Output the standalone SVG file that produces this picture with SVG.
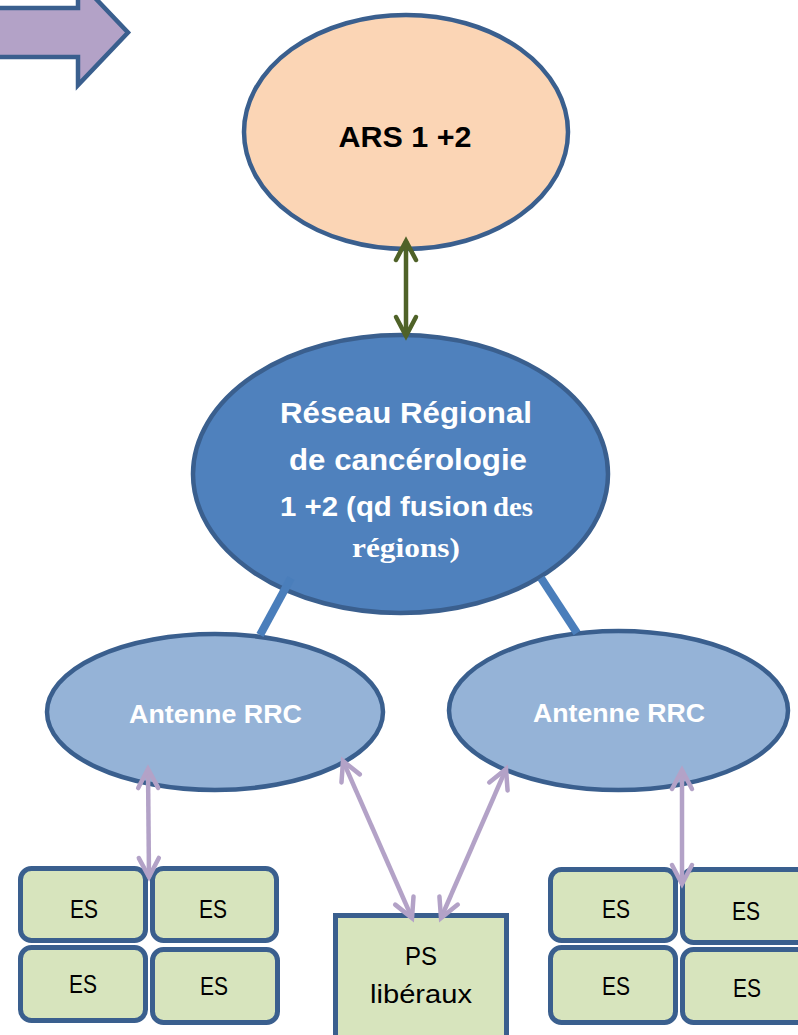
<svg xmlns="http://www.w3.org/2000/svg" width="798" height="1035" viewBox="0 0 798 1035">
<style>
.node{stroke:#3A5F8E;stroke-width:4.5}
.box{fill:#D7E4BD;stroke:#3A5F8E;stroke-width:5}
.lbl{font-family:"Liberation Sans",Arial,sans-serif;text-anchor:middle}
.b{font-weight:bold}
.w{fill:#FFFFFF}
.k{fill:#000000}
.serif{font-family:"Liberation Serif","Times New Roman",serif;font-weight:bold}
.purple{stroke:#B3A2C7;stroke-width:4.5;fill:none}
.green{stroke:#4F6228;stroke-width:4.5;fill:none}
.link{stroke:#4A7EBB;stroke-width:8;fill:none}
</style>
<defs>
<marker id="mp" markerUnits="userSpaceOnUse" markerWidth="30" markerHeight="30" viewBox="-25 -15 30 30" refX="0" refY="0" orient="auto-start-reverse" overflow="visible">
<path d="M-19,-10 L0,0 L-19,10" fill="none" stroke="#B3A2C7" stroke-width="4.5" stroke-linecap="round" stroke-linejoin="miter"/>
</marker>
<marker id="mg" markerUnits="userSpaceOnUse" markerWidth="30" markerHeight="30" viewBox="-25 -15 30 30" refX="0" refY="0" orient="auto-start-reverse" overflow="visible">
<path d="M-19,-10 L0,0 L-19,10" fill="none" stroke="#4F6228" stroke-width="4.5" stroke-linecap="round" stroke-linejoin="miter"/>
</marker>
</defs>
<rect width="798" height="1035" fill="#FFFFFF"/>

<g id="big-arrow">
<polygon points="-10,8 78,8 78,-20 128,32.5 78,85 78,57 -10,57" fill="#B3A2C7" stroke="#3A5F8E" stroke-width="4.5" stroke-linejoin="miter"/>
</g>

<g id="ars">
<ellipse class="node" cx="406" cy="132" rx="162" ry="117" fill="#FBD5B5"/>
<text class="lbl b k" x="405" y="147" font-size="29" textLength="133" lengthAdjust="spacingAndGlyphs">ARS 1 +2</text>
</g>

<g id="rrc">
<ellipse class="node" cx="400.5" cy="474" rx="207.5" ry="139" fill="#4F81BD"/>
<text class="lbl b w" x="406" y="423" font-size="30" textLength="252" lengthAdjust="spacingAndGlyphs">Réseau Régional</text>
<text class="lbl b w" x="408" y="470" font-size="30" textLength="238" lengthAdjust="spacingAndGlyphs">de cancérologie</text>
<text class="b w" font-family="Liberation Sans, Arial, sans-serif" font-size="27" y="516"><tspan x="280" textLength="208" lengthAdjust="spacingAndGlyphs">1 +2 (qd fusion</tspan><tspan class="serif" x="493" font-size="28" textLength="40" lengthAdjust="spacingAndGlyphs">des</tspan></text>
<text class="w serif" x="406" y="557" font-size="28" text-anchor="middle" textLength="108" lengthAdjust="spacingAndGlyphs">régions)</text>
</g>

<g id="antenne-left">
<ellipse class="node" cx="215" cy="712" rx="168" ry="78" fill="#95B3D7"/>
<text class="lbl b w" x="215.5" y="723" font-size="26" textLength="173" lengthAdjust="spacingAndGlyphs">Antenne RRC</text>
</g>

<g id="antenne-right">
<ellipse class="node" cx="618.5" cy="710.5" rx="169.5" ry="79.5" fill="#95B3D7"/>
<text class="lbl b w" x="619" y="722" font-size="26" textLength="172" lengthAdjust="spacingAndGlyphs">Antenne RRC</text>
</g>

<g id="es-left-1"><rect class="box" x="20.5" y="868.5" width="125" height="72" rx="11"/><text class="lbl k" x="84" y="918" font-size="25" textLength="28" lengthAdjust="spacingAndGlyphs">ES</text></g>
<g id="es-left-2"><rect class="box" x="152.5" y="868.5" width="124" height="72" rx="11"/><text class="lbl k" x="213" y="918" font-size="25" textLength="28" lengthAdjust="spacingAndGlyphs">ES</text></g>
<g id="es-left-3"><rect class="box" x="20.5" y="947.5" width="125" height="73" rx="11"/><text class="lbl k" x="83" y="993" font-size="25" textLength="28" lengthAdjust="spacingAndGlyphs">ES</text></g>
<g id="es-left-4"><rect class="box" x="152.5" y="949.5" width="125" height="73" rx="11"/><text class="lbl k" x="214" y="995" font-size="25" textLength="28" lengthAdjust="spacingAndGlyphs">ES</text></g>

<g id="ps"><rect class="box" x="335.5" y="915.5" width="171" height="130"/>
<text class="lbl k" x="421" y="965" font-size="25" textLength="32" lengthAdjust="spacingAndGlyphs">PS</text>
<text class="lbl k" x="421" y="1003" font-size="25" textLength="102" lengthAdjust="spacingAndGlyphs">libéraux</text></g>

<g id="es-right-1"><rect class="box" x="550.5" y="869.5" width="125" height="71" rx="11"/><text class="lbl k" x="616" y="918" font-size="25" textLength="28" lengthAdjust="spacingAndGlyphs">ES</text></g>
<g id="es-right-2"><rect class="box" x="682.5" y="869.5" width="125" height="73" rx="11"/><text class="lbl k" x="746" y="920" font-size="25" textLength="28" lengthAdjust="spacingAndGlyphs">ES</text></g>
<g id="es-right-3"><rect class="box" x="550.5" y="947.5" width="125" height="75" rx="11"/><text class="lbl k" x="616" y="995" font-size="25" textLength="28" lengthAdjust="spacingAndGlyphs">ES</text></g>
<g id="es-right-4"><rect class="box" x="682.5" y="949.5" width="125" height="73" rx="11"/><text class="lbl k" x="747" y="997" font-size="25" textLength="28" lengthAdjust="spacingAndGlyphs">ES</text></g>

<g id="connectors">
<line class="link" x1="291" y1="578" x2="260" y2="635"/>
<line class="link" x1="541" y1="578" x2="577" y2="633"/>
<line class="green" x1="406" y1="241" x2="406" y2="336" marker-start="url(#mg)" marker-end="url(#mg)"/>
<line class="purple" x1="148" y1="769" x2="149" y2="877" marker-start="url(#mp)" marker-end="url(#mp)"/>
<line class="purple" x1="343" y1="761" x2="412" y2="918" marker-start="url(#mp)" marker-end="url(#mp)"/>
<line class="purple" x1="506" y1="769" x2="441" y2="918" marker-start="url(#mp)" marker-end="url(#mp)"/>
<line class="purple" x1="682" y1="770" x2="682" y2="884" marker-start="url(#mp)" marker-end="url(#mp)"/>
</g>
</svg>
